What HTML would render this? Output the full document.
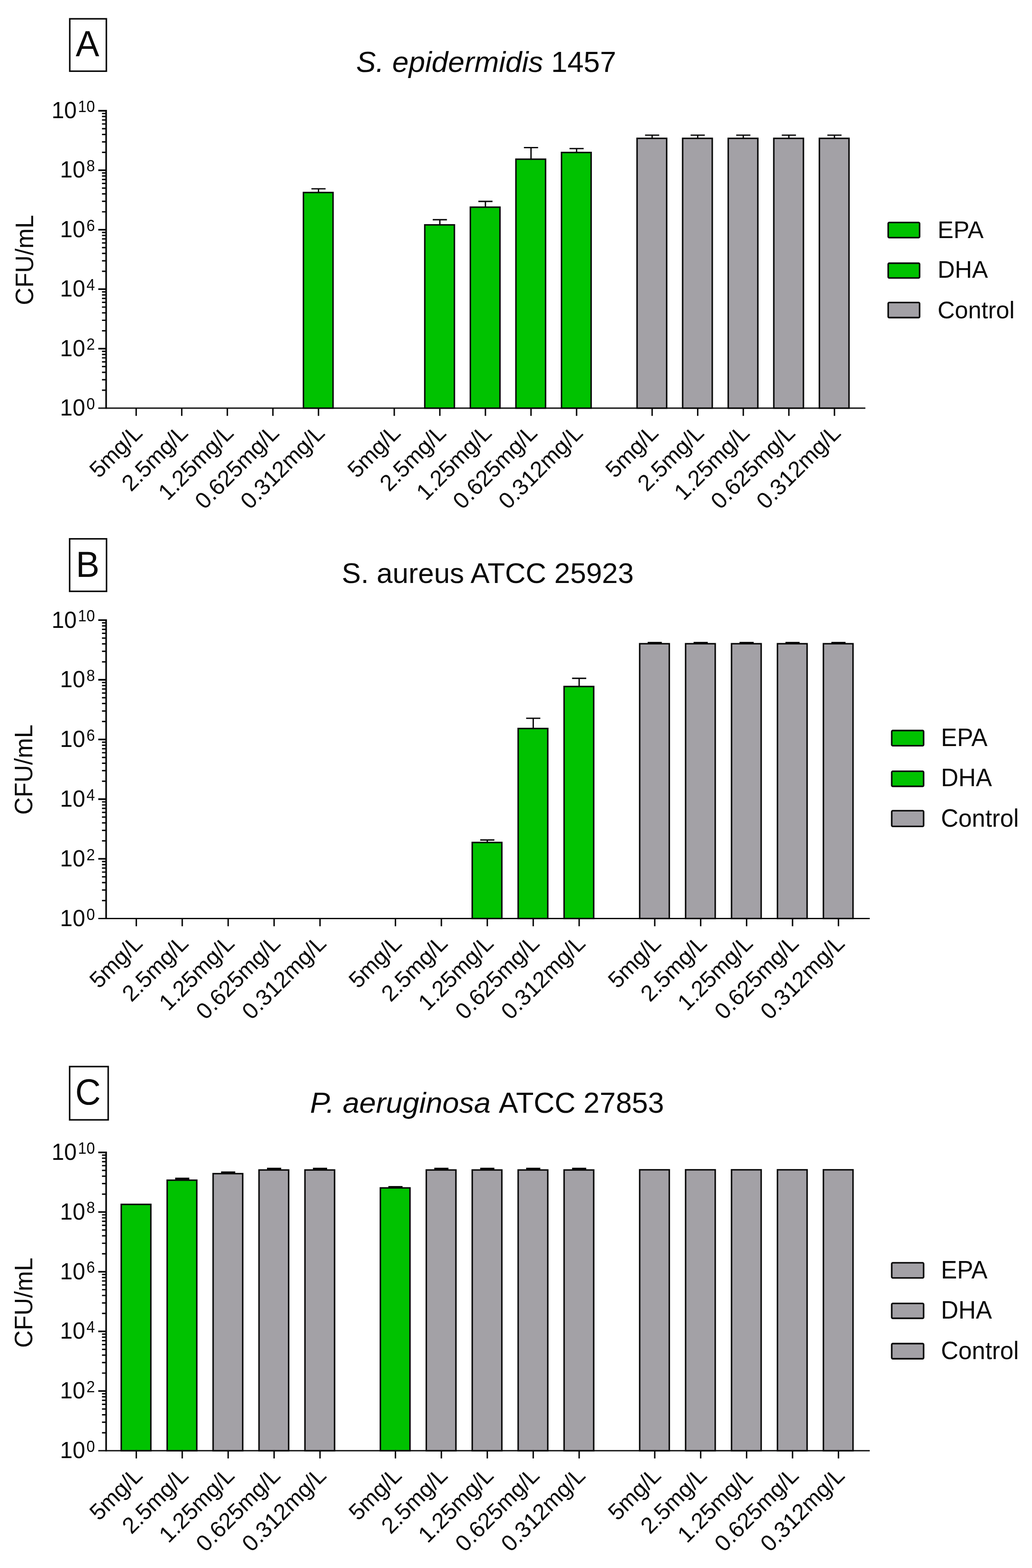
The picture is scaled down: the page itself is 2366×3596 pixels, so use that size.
<!DOCTYPE html>
<html lang="en"><head><meta charset="utf-8"><title>Figure: CFU/mL for EPA, DHA and Control</title>
<style>
html,body{margin:0;padding:0;background:#fff}
body{width:2366px;height:3596px;overflow:hidden}
svg{display:block}
svg text{font-family:"Liberation Sans", Arial, Helvetica, sans-serif;fill:#0a0a0a}
</style></head><body>
<svg width="2366" height="3596" viewBox="0 0 2366 3596">
<rect width="2366" height="3596" fill="#fff"/>
<g class="panel" id="panel-A">
<rect x="159.95" y="43.15" width="83.9" height="120.1" fill="#fff" stroke="#0a0a0a" stroke-width="3.5"/>
<text class="letter" transform="translate(200.5 128.6) scale(1 1.04)" font-size="81" text-anchor="middle">A</text>
<g class="title">
<text xml:space="preserve" font-style="italic" transform="translate(816.6 165.2) scale(1.01 1)" font-size="67">S. epidermidis</text>
<text xml:space="preserve" transform="translate(1263.6 165.2)" font-size="67">1457</text>
</g>
<g class="axes">
<path d="M312.2 936V953.8M416.7 936V953.8M521.2 936V953.8M625.7 936V953.8M730.2 936V953.8M903.9 936V953.8M1008.4 936V953.8M1112.9 936V953.8M1217.4 936V953.8M1321.9 936V953.8M1495.1 936V953.8M1599.6 936V953.8M1704.1 936V953.8M1808.6 936V953.8M1913.1 936V953.8" fill="none" stroke="#0a0a0a" stroke-width="3.3"/>
<path d="M243.3 252.1V937.6M225.3 254H243.3M225.3 390.4H243.3M225.3 526.8H243.3M225.3 663.2H243.3M225.3 799.6H243.3" fill="none" stroke="#0a0a0a" stroke-width="3.8"/>
<path d="M225.3 936H1984" fill="none" stroke="#0a0a0a" stroke-width="3.2"/>
<path d="M233.8 349.34H243.3M233.8 325.32H243.3M233.8 308.28H243.3M233.8 295.06H243.3M233.8 284.26H243.3M233.8 275.13H243.3M233.8 267.22H243.3M233.8 260.24H243.3M233.8 485.74H243.3M233.8 461.72H243.3M233.8 444.68H243.3M233.8 431.46H243.3M233.8 420.66H243.3M233.8 411.53H243.3M233.8 403.62H243.3M233.8 396.64H243.3M233.8 622.14H243.3M233.8 598.12H243.3M233.8 581.08H243.3M233.8 567.86H243.3M233.8 557.06H243.3M233.8 547.93H243.3M233.8 540.02H243.3M233.8 533.04H243.3M233.8 758.54H243.3M233.8 734.52H243.3M233.8 717.48H243.3M233.8 704.26H243.3M233.8 693.46H243.3M233.8 684.33H243.3M233.8 676.42H243.3M233.8 669.44H243.3M233.8 894.94H243.3M233.8 870.92H243.3M233.8 853.88H243.3M233.8 840.66H243.3M233.8 829.86H243.3M233.8 820.73H243.3M233.8 812.82H243.3M233.8 805.84H243.3" fill="none" stroke="#0a0a0a" stroke-width="3.2"/>
</g>
<g class="bars">
<path d="M730.2 440.8V433M713.95 433H746.45" fill="none" stroke="#0a0a0a" stroke-width="3.1"/>
<rect x="695.65" y="441.5" width="67.9" height="494.5" fill="#00c200" stroke="#0a0a0a" stroke-width="3.4"/>
<path d="M1008.4 515V503.9M992.15 503.9H1024.65" fill="none" stroke="#0a0a0a" stroke-width="3.1"/>
<rect x="973.85" y="515.7" width="67.9" height="420.3" fill="#00c200" stroke="#0a0a0a" stroke-width="3.4"/>
<path d="M1112.9 474.4V461.9M1096.65 461.9H1129.15" fill="none" stroke="#0a0a0a" stroke-width="3.1"/>
<rect x="1078.35" y="475.1" width="67.9" height="460.9" fill="#00c200" stroke="#0a0a0a" stroke-width="3.4"/>
<path d="M1217.4 364.4V338.5M1201.15 338.5H1233.65" fill="none" stroke="#0a0a0a" stroke-width="3.1"/>
<rect x="1182.85" y="365.1" width="67.9" height="570.9" fill="#00c200" stroke="#0a0a0a" stroke-width="3.4"/>
<path d="M1321.9 349V340.7M1305.65 340.7H1338.15" fill="none" stroke="#0a0a0a" stroke-width="3.1"/>
<rect x="1287.35" y="349.7" width="67.9" height="586.3" fill="#00c200" stroke="#0a0a0a" stroke-width="3.4"/>
<path d="M1495.1 316.6V310M1478.85 310H1511.35" fill="none" stroke="#0a0a0a" stroke-width="3.1"/>
<rect x="1460.55" y="317.3" width="67.9" height="618.7" fill="#a3a1a6" stroke="#0a0a0a" stroke-width="3.4"/>
<path d="M1599.6 316.6V310M1583.35 310H1615.85" fill="none" stroke="#0a0a0a" stroke-width="3.1"/>
<rect x="1565.05" y="317.3" width="67.9" height="618.7" fill="#a3a1a6" stroke="#0a0a0a" stroke-width="3.4"/>
<path d="M1704.1 316.6V310M1687.85 310H1720.35" fill="none" stroke="#0a0a0a" stroke-width="3.1"/>
<rect x="1669.55" y="317.3" width="67.9" height="618.7" fill="#a3a1a6" stroke="#0a0a0a" stroke-width="3.4"/>
<path d="M1808.6 316.6V310M1792.35 310H1824.85" fill="none" stroke="#0a0a0a" stroke-width="3.1"/>
<rect x="1774.05" y="317.3" width="67.9" height="618.7" fill="#a3a1a6" stroke="#0a0a0a" stroke-width="3.4"/>
<path d="M1913.1 316.6V310M1896.85 310H1929.35" fill="none" stroke="#0a0a0a" stroke-width="3.1"/>
<rect x="1878.55" y="317.3" width="67.9" height="618.7" fill="#a3a1a6" stroke="#0a0a0a" stroke-width="3.4"/>
</g>
<g class="ylabels">
<text transform="translate(217.6 271) scale(1 1.045)" font-size="52" text-anchor="end">10<tspan font-size="35" dx="2.7" dy="-13.68">10</tspan></text>
<text transform="translate(217.6 407.4) scale(1 1.045)" font-size="52" text-anchor="end">10<tspan font-size="35" dx="2.7" dy="-13.68">8</tspan></text>
<text transform="translate(217.6 543.8) scale(1 1.045)" font-size="52" text-anchor="end">10<tspan font-size="35" dx="2.7" dy="-13.68">6</tspan></text>
<text transform="translate(217.6 680.2) scale(1 1.045)" font-size="52" text-anchor="end">10<tspan font-size="35" dx="2.7" dy="-13.68">4</tspan></text>
<text transform="translate(217.6 816.6) scale(1 1.045)" font-size="52" text-anchor="end">10<tspan font-size="35" dx="2.7" dy="-13.68">2</tspan></text>
<text transform="translate(217.6 953) scale(1 1.045)" font-size="52" text-anchor="end">10<tspan font-size="35" dx="2.7" dy="-13.68">0</tspan></text>
</g>
<text class="ytitle" transform="translate(76.2 596.3) rotate(-90) scale(1 1.035)" font-size="55.6" text-anchor="middle">CFU/mL</text>
<g class="xlabels">
<text transform="translate(329.3 995.9) rotate(-45)" font-size="52.2" text-anchor="end">5mg/L</text>
<text transform="translate(433.8 995.9) rotate(-45)" font-size="52.2" text-anchor="end">2.5mg/L</text>
<text transform="translate(538.3 995.9) rotate(-45)" font-size="52.2" text-anchor="end">1.25mg/L</text>
<text transform="translate(642.8 995.9) rotate(-45)" font-size="52.2" text-anchor="end">0.625mg/L</text>
<text transform="translate(747.3 995.9) rotate(-45)" font-size="52.2" text-anchor="end">0.312mg/L</text>
<text transform="translate(921 995.9) rotate(-45)" font-size="52.2" text-anchor="end">5mg/L</text>
<text transform="translate(1025.5 995.9) rotate(-45)" font-size="52.2" text-anchor="end">2.5mg/L</text>
<text transform="translate(1130 995.9) rotate(-45)" font-size="52.2" text-anchor="end">1.25mg/L</text>
<text transform="translate(1234.5 995.9) rotate(-45)" font-size="52.2" text-anchor="end">0.625mg/L</text>
<text transform="translate(1339 995.9) rotate(-45)" font-size="52.2" text-anchor="end">0.312mg/L</text>
<text transform="translate(1512.2 995.9) rotate(-45)" font-size="52.2" text-anchor="end">5mg/L</text>
<text transform="translate(1616.7 995.9) rotate(-45)" font-size="52.2" text-anchor="end">2.5mg/L</text>
<text transform="translate(1721.2 995.9) rotate(-45)" font-size="52.2" text-anchor="end">1.25mg/L</text>
<text transform="translate(1825.7 995.9) rotate(-45)" font-size="52.2" text-anchor="end">0.625mg/L</text>
<text transform="translate(1930.2 995.9) rotate(-45)" font-size="52.2" text-anchor="end">0.312mg/L</text>
</g>
<g class="legend">
<rect x="2036.3" y="510.3" width="72" height="34.7" rx="2.5" fill="#00c200" stroke="#0a0a0a" stroke-width="3.6"/>
<text transform="translate(2149.5 545.6) scale(1 1.03)" font-size="54.8">EPA</text>
<rect x="2036.3" y="603.6" width="72" height="33.9" rx="2.5" fill="#00c200" stroke="#0a0a0a" stroke-width="3.6"/>
<text transform="translate(2149.5 636.8) scale(1 1.03)" font-size="54.8">DHA</text>
<rect x="2036.3" y="693.8" width="72" height="34.6" rx="2.5" fill="#a3a1a6" stroke="#0a0a0a" stroke-width="3.6"/>
<text transform="translate(2149.5 729.5) scale(1 1.03)" font-size="54.8">Control</text>
</g>
</g>
<g class="panel" id="panel-B">
<rect x="159.65" y="1235.75" width="84.6" height="120.4" fill="#fff" stroke="#0a0a0a" stroke-width="3.5"/>
<text class="letter" transform="translate(201 1322.8) scale(1 1.04)" font-size="81" text-anchor="middle">B</text>
<g class="title">
<text xml:space="preserve" transform="translate(783.4 1337)" font-size="65.6">S. aureus ATCC 25923</text>
</g>
<g class="axes">
<path d="M312.5 2106.5V2124.3M417.8 2106.5V2124.3M523.1 2106.5V2124.3M628.4 2106.5V2124.3M733.7 2106.5V2124.3M906.6 2106.5V2124.3M1011.9 2106.5V2124.3M1117.2 2106.5V2124.3M1222.5 2106.5V2124.3M1327.8 2106.5V2124.3M1501.1 2106.5V2124.3M1606.4 2106.5V2124.3M1711.7 2106.5V2124.3M1817 2106.5V2124.3M1922.3 2106.5V2124.3" fill="none" stroke="#0a0a0a" stroke-width="3.3"/>
<path d="M243.3 1420.2V2108.1M225.3 1422.1H243.3M225.3 1558.98H243.3M225.3 1695.86H243.3M225.3 1832.74H243.3M225.3 1969.62H243.3" fill="none" stroke="#0a0a0a" stroke-width="3.8"/>
<path d="M225.3 2106.5H1994" fill="none" stroke="#0a0a0a" stroke-width="3.2"/>
<path d="M233.8 1517.78H243.3M233.8 1493.67H243.3M233.8 1476.57H243.3M233.8 1463.3H243.3M233.8 1452.47H243.3M233.8 1443.3H243.3M233.8 1435.37H243.3M233.8 1428.36H243.3M233.8 1654.66H243.3M233.8 1630.55H243.3M233.8 1613.45H243.3M233.8 1600.18H243.3M233.8 1589.35H243.3M233.8 1580.18H243.3M233.8 1572.25H243.3M233.8 1565.24H243.3M233.8 1791.54H243.3M233.8 1767.43H243.3M233.8 1750.33H243.3M233.8 1737.06H243.3M233.8 1726.23H243.3M233.8 1717.06H243.3M233.8 1709.13H243.3M233.8 1702.12H243.3M233.8 1928.42H243.3M233.8 1904.31H243.3M233.8 1887.21H243.3M233.8 1873.94H243.3M233.8 1863.11H243.3M233.8 1853.94H243.3M233.8 1846.01H243.3M233.8 1839H243.3M233.8 2065.3H243.3M233.8 2041.19H243.3M233.8 2024.09H243.3M233.8 2010.82H243.3M233.8 1999.99H243.3M233.8 1990.82H243.3M233.8 1982.89H243.3M233.8 1975.88H243.3" fill="none" stroke="#0a0a0a" stroke-width="3.2"/>
</g>
<g class="bars">
<path d="M1117.2 1931.4V1926.4M1100.95 1926.4H1133.45" fill="none" stroke="#0a0a0a" stroke-width="3.1"/>
<rect x="1082.65" y="1932.1" width="67.9" height="174.4" fill="#00c200" stroke="#0a0a0a" stroke-width="3.4"/>
<path d="M1222.5 1670V1647.2M1206.25 1647.2H1238.75" fill="none" stroke="#0a0a0a" stroke-width="3.1"/>
<rect x="1187.95" y="1670.7" width="67.9" height="435.8" fill="#00c200" stroke="#0a0a0a" stroke-width="3.4"/>
<path d="M1327.8 1573.7V1555.6M1311.55 1555.6H1344.05" fill="none" stroke="#0a0a0a" stroke-width="3.1"/>
<rect x="1293.25" y="1574.4" width="67.9" height="532.1" fill="#00c200" stroke="#0a0a0a" stroke-width="3.4"/>
<path d="M1501.1 1475.6V1473.6M1484.85 1473.6H1517.35" fill="none" stroke="#0a0a0a" stroke-width="3.1"/>
<rect x="1466.55" y="1476.3" width="67.9" height="630.2" fill="#a3a1a6" stroke="#0a0a0a" stroke-width="3.4"/>
<path d="M1606.4 1475.6V1473.6M1590.15 1473.6H1622.65" fill="none" stroke="#0a0a0a" stroke-width="3.1"/>
<rect x="1571.85" y="1476.3" width="67.9" height="630.2" fill="#a3a1a6" stroke="#0a0a0a" stroke-width="3.4"/>
<path d="M1711.7 1475.6V1473.6M1695.45 1473.6H1727.95" fill="none" stroke="#0a0a0a" stroke-width="3.1"/>
<rect x="1677.15" y="1476.3" width="67.9" height="630.2" fill="#a3a1a6" stroke="#0a0a0a" stroke-width="3.4"/>
<path d="M1817 1475.6V1473.6M1800.75 1473.6H1833.25" fill="none" stroke="#0a0a0a" stroke-width="3.1"/>
<rect x="1782.45" y="1476.3" width="67.9" height="630.2" fill="#a3a1a6" stroke="#0a0a0a" stroke-width="3.4"/>
<path d="M1922.3 1475.6V1473.6M1906.05 1473.6H1938.55" fill="none" stroke="#0a0a0a" stroke-width="3.1"/>
<rect x="1887.75" y="1476.3" width="67.9" height="630.2" fill="#a3a1a6" stroke="#0a0a0a" stroke-width="3.4"/>
</g>
<g class="ylabels">
<text transform="translate(217.6 1439.5) scale(1 1.045)" font-size="52" text-anchor="end">10<tspan font-size="35" dx="2.7" dy="-13.68">10</tspan></text>
<text transform="translate(217.6 1576.38) scale(1 1.045)" font-size="52" text-anchor="end">10<tspan font-size="35" dx="2.7" dy="-13.68">8</tspan></text>
<text transform="translate(217.6 1713.26) scale(1 1.045)" font-size="52" text-anchor="end">10<tspan font-size="35" dx="2.7" dy="-13.68">6</tspan></text>
<text transform="translate(217.6 1850.14) scale(1 1.045)" font-size="52" text-anchor="end">10<tspan font-size="35" dx="2.7" dy="-13.68">4</tspan></text>
<text transform="translate(217.6 1987.02) scale(1 1.045)" font-size="52" text-anchor="end">10<tspan font-size="35" dx="2.7" dy="-13.68">2</tspan></text>
<text transform="translate(217.6 2123.9) scale(1 1.045)" font-size="52" text-anchor="end">10<tspan font-size="35" dx="2.7" dy="-13.68">0</tspan></text>
</g>
<text class="ytitle" transform="translate(73.9 1765.1) rotate(-90) scale(1 1.035)" font-size="55.6" text-anchor="middle">CFU/mL</text>
<g class="xlabels">
<text transform="translate(329.6 2166.4) rotate(-45)" font-size="52.2" text-anchor="end">5mg/L</text>
<text transform="translate(434.9 2166.4) rotate(-45)" font-size="52.2" text-anchor="end">2.5mg/L</text>
<text transform="translate(540.2 2166.4) rotate(-45)" font-size="52.2" text-anchor="end">1.25mg/L</text>
<text transform="translate(645.5 2166.4) rotate(-45)" font-size="52.2" text-anchor="end">0.625mg/L</text>
<text transform="translate(750.8 2166.4) rotate(-45)" font-size="52.2" text-anchor="end">0.312mg/L</text>
<text transform="translate(923.7 2166.4) rotate(-45)" font-size="52.2" text-anchor="end">5mg/L</text>
<text transform="translate(1029 2166.4) rotate(-45)" font-size="52.2" text-anchor="end">2.5mg/L</text>
<text transform="translate(1134.3 2166.4) rotate(-45)" font-size="52.2" text-anchor="end">1.25mg/L</text>
<text transform="translate(1239.6 2166.4) rotate(-45)" font-size="52.2" text-anchor="end">0.625mg/L</text>
<text transform="translate(1344.9 2166.4) rotate(-45)" font-size="52.2" text-anchor="end">0.312mg/L</text>
<text transform="translate(1518.2 2166.4) rotate(-45)" font-size="52.2" text-anchor="end">5mg/L</text>
<text transform="translate(1623.5 2166.4) rotate(-45)" font-size="52.2" text-anchor="end">2.5mg/L</text>
<text transform="translate(1728.8 2166.4) rotate(-45)" font-size="52.2" text-anchor="end">1.25mg/L</text>
<text transform="translate(1834.1 2166.4) rotate(-45)" font-size="52.2" text-anchor="end">0.625mg/L</text>
<text transform="translate(1939.4 2166.4) rotate(-45)" font-size="52.2" text-anchor="end">0.312mg/L</text>
</g>
<g class="legend">
<rect x="2044.4" y="1675.4" width="73.1" height="34.8" rx="2.5" fill="#00c200" stroke="#0a0a0a" stroke-width="3.6"/>
<text transform="translate(2157.3 1711.2) scale(1 1.03)" font-size="55.4">EPA</text>
<rect x="2044.4" y="1768.7" width="73.1" height="34.7" rx="2.5" fill="#00c200" stroke="#0a0a0a" stroke-width="3.6"/>
<text transform="translate(2157.3 1803.1) scale(1 1.03)" font-size="55.4">DHA</text>
<rect x="2044.4" y="1859.3" width="73.1" height="36" rx="2.5" fill="#a3a1a6" stroke="#0a0a0a" stroke-width="3.6"/>
<text transform="translate(2157.3 1895.9) scale(1 1.03)" font-size="55.4">Control</text>
</g>
</g>
<g class="panel" id="panel-C">
<rect x="159.65" y="2446.05" width="88.4" height="122.2" fill="#fff" stroke="#0a0a0a" stroke-width="3.5"/>
<text class="letter" transform="translate(201.8 2532.6) scale(1 1.04)" font-size="81" text-anchor="middle">C</text>
<g class="title">
<text xml:space="preserve" font-style="italic" transform="translate(710.8 2551.8) scale(1.023 1)" font-size="67">P. aeruginosa</text>
<text xml:space="preserve" transform="translate(1143.6 2551.8)" font-size="66.4">ATCC 27853</text>
</g>
<g class="axes">
<path d="M312.5 3327V3344.8M417.8 3327V3344.8M523.1 3327V3344.8M628.4 3327V3344.8M733.7 3327V3344.8M906.6 3327V3344.8M1011.9 3327V3344.8M1117.2 3327V3344.8M1222.5 3327V3344.8M1327.8 3327V3344.8M1501.1 3327V3344.8M1606.4 3327V3344.8M1711.7 3327V3344.8M1817 3327V3344.8M1922.3 3327V3344.8" fill="none" stroke="#0a0a0a" stroke-width="3.3"/>
<path d="M243.3 2641V3328.6M225.3 2642.9H243.3M225.3 2779.72H243.3M225.3 2916.54H243.3M225.3 3053.36H243.3M225.3 3190.18H243.3" fill="none" stroke="#0a0a0a" stroke-width="3.8"/>
<path d="M225.3 3327H1994" fill="none" stroke="#0a0a0a" stroke-width="3.2"/>
<path d="M233.8 2738.53H243.3M233.8 2714.44H243.3M233.8 2697.35H243.3M233.8 2684.09H243.3M233.8 2673.25H243.3M233.8 2664.09H243.3M233.8 2656.16H243.3M233.8 2649.16H243.3M233.8 2875.35H243.3M233.8 2851.26H243.3M233.8 2834.17H243.3M233.8 2820.91H243.3M233.8 2810.07H243.3M233.8 2800.91H243.3M233.8 2792.98H243.3M233.8 2785.98H243.3M233.8 3012.17H243.3M233.8 2988.08H243.3M233.8 2970.99H243.3M233.8 2957.73H243.3M233.8 2946.89H243.3M233.8 2937.73H243.3M233.8 2929.8H243.3M233.8 2922.8H243.3M233.8 3148.99H243.3M233.8 3124.9H243.3M233.8 3107.81H243.3M233.8 3094.55H243.3M233.8 3083.71H243.3M233.8 3074.55H243.3M233.8 3066.62H243.3M233.8 3059.62H243.3M233.8 3285.81H243.3M233.8 3261.72H243.3M233.8 3244.63H243.3M233.8 3231.37H243.3M233.8 3220.53H243.3M233.8 3211.37H243.3M233.8 3203.44H243.3M233.8 3196.44H243.3" fill="none" stroke="#0a0a0a" stroke-width="3.2"/>
</g>
<g class="bars">
<rect x="277.95" y="2762.1" width="67.9" height="564.9" fill="#00c200" stroke="#0a0a0a" stroke-width="3.4"/>
<path d="M417.8 2705.9V2703M401.55 2703H434.05" fill="none" stroke="#0a0a0a" stroke-width="4.4"/>
<rect x="383.25" y="2706.6" width="67.9" height="620.4" fill="#00c200" stroke="#0a0a0a" stroke-width="3.4"/>
<path d="M523.1 2690.9V2688.6M506.85 2688.6H539.35" fill="none" stroke="#0a0a0a" stroke-width="4.4"/>
<rect x="488.55" y="2691.6" width="67.9" height="635.4" fill="#a3a1a6" stroke="#0a0a0a" stroke-width="3.4"/>
<path d="M628.4 2682.5V2680.2M612.15 2680.2H644.65" fill="none" stroke="#0a0a0a" stroke-width="4.4"/>
<rect x="593.85" y="2683.2" width="67.9" height="643.8" fill="#a3a1a6" stroke="#0a0a0a" stroke-width="3.4"/>
<path d="M733.7 2682.5V2680.2M717.45 2680.2H749.95" fill="none" stroke="#0a0a0a" stroke-width="4.4"/>
<rect x="699.15" y="2683.2" width="67.9" height="643.8" fill="#a3a1a6" stroke="#0a0a0a" stroke-width="3.4"/>
<path d="M906.6 2723.6V2722.2M890.35 2722.2H922.85" fill="none" stroke="#0a0a0a" stroke-width="4.4"/>
<rect x="872.05" y="2724.3" width="67.9" height="602.7" fill="#00c200" stroke="#0a0a0a" stroke-width="3.4"/>
<path d="M1011.9 2682.5V2680.2M995.65 2680.2H1028.15" fill="none" stroke="#0a0a0a" stroke-width="4.4"/>
<rect x="977.35" y="2683.2" width="67.9" height="643.8" fill="#a3a1a6" stroke="#0a0a0a" stroke-width="3.4"/>
<path d="M1117.2 2682.5V2680.2M1100.95 2680.2H1133.45" fill="none" stroke="#0a0a0a" stroke-width="4.4"/>
<rect x="1082.65" y="2683.2" width="67.9" height="643.8" fill="#a3a1a6" stroke="#0a0a0a" stroke-width="3.4"/>
<path d="M1222.5 2682.5V2680.2M1206.25 2680.2H1238.75" fill="none" stroke="#0a0a0a" stroke-width="4.4"/>
<rect x="1187.95" y="2683.2" width="67.9" height="643.8" fill="#a3a1a6" stroke="#0a0a0a" stroke-width="3.4"/>
<path d="M1327.8 2682.5V2680.2M1311.55 2680.2H1344.05" fill="none" stroke="#0a0a0a" stroke-width="4.4"/>
<rect x="1293.25" y="2683.2" width="67.9" height="643.8" fill="#a3a1a6" stroke="#0a0a0a" stroke-width="3.4"/>
<rect x="1466.55" y="2682.8" width="67.9" height="644.2" fill="#a3a1a6" stroke="#0a0a0a" stroke-width="3.4"/>
<rect x="1571.85" y="2682.8" width="67.9" height="644.2" fill="#a3a1a6" stroke="#0a0a0a" stroke-width="3.4"/>
<rect x="1677.15" y="2682.8" width="67.9" height="644.2" fill="#a3a1a6" stroke="#0a0a0a" stroke-width="3.4"/>
<rect x="1782.45" y="2682.8" width="67.9" height="644.2" fill="#a3a1a6" stroke="#0a0a0a" stroke-width="3.4"/>
<rect x="1887.75" y="2682.8" width="67.9" height="644.2" fill="#a3a1a6" stroke="#0a0a0a" stroke-width="3.4"/>
</g>
<g class="ylabels">
<text transform="translate(217.6 2659.9) scale(1 1.045)" font-size="52" text-anchor="end">10<tspan font-size="35" dx="2.7" dy="-13.68">10</tspan></text>
<text transform="translate(217.6 2796.72) scale(1 1.045)" font-size="52" text-anchor="end">10<tspan font-size="35" dx="2.7" dy="-13.68">8</tspan></text>
<text transform="translate(217.6 2933.54) scale(1 1.045)" font-size="52" text-anchor="end">10<tspan font-size="35" dx="2.7" dy="-13.68">6</tspan></text>
<text transform="translate(217.6 3070.36) scale(1 1.045)" font-size="52" text-anchor="end">10<tspan font-size="35" dx="2.7" dy="-13.68">4</tspan></text>
<text transform="translate(217.6 3207.18) scale(1 1.045)" font-size="52" text-anchor="end">10<tspan font-size="35" dx="2.7" dy="-13.68">2</tspan></text>
<text transform="translate(217.6 3344) scale(1 1.045)" font-size="52" text-anchor="end">10<tspan font-size="35" dx="2.7" dy="-13.68">0</tspan></text>
</g>
<text class="ytitle" transform="translate(73.9 2987.5) rotate(-90) scale(1 1.035)" font-size="55.6" text-anchor="middle">CFU/mL</text>
<g class="xlabels">
<text transform="translate(329.6 3386.9) rotate(-45)" font-size="52.2" text-anchor="end">5mg/L</text>
<text transform="translate(434.9 3386.9) rotate(-45)" font-size="52.2" text-anchor="end">2.5mg/L</text>
<text transform="translate(540.2 3386.9) rotate(-45)" font-size="52.2" text-anchor="end">1.25mg/L</text>
<text transform="translate(645.5 3386.9) rotate(-45)" font-size="52.2" text-anchor="end">0.625mg/L</text>
<text transform="translate(750.8 3386.9) rotate(-45)" font-size="52.2" text-anchor="end">0.312mg/L</text>
<text transform="translate(923.7 3386.9) rotate(-45)" font-size="52.2" text-anchor="end">5mg/L</text>
<text transform="translate(1029 3386.9) rotate(-45)" font-size="52.2" text-anchor="end">2.5mg/L</text>
<text transform="translate(1134.3 3386.9) rotate(-45)" font-size="52.2" text-anchor="end">1.25mg/L</text>
<text transform="translate(1239.6 3386.9) rotate(-45)" font-size="52.2" text-anchor="end">0.625mg/L</text>
<text transform="translate(1344.9 3386.9) rotate(-45)" font-size="52.2" text-anchor="end">0.312mg/L</text>
<text transform="translate(1518.2 3386.9) rotate(-45)" font-size="52.2" text-anchor="end">5mg/L</text>
<text transform="translate(1623.5 3386.9) rotate(-45)" font-size="52.2" text-anchor="end">2.5mg/L</text>
<text transform="translate(1728.8 3386.9) rotate(-45)" font-size="52.2" text-anchor="end">1.25mg/L</text>
<text transform="translate(1834.1 3386.9) rotate(-45)" font-size="52.2" text-anchor="end">0.625mg/L</text>
<text transform="translate(1939.4 3386.9) rotate(-45)" font-size="52.2" text-anchor="end">0.312mg/L</text>
</g>
<g class="legend">
<rect x="2044.4" y="2896" width="73.1" height="34.7" rx="2.5" fill="#a3a1a6" stroke="#0a0a0a" stroke-width="3.6"/>
<text transform="translate(2157.3 2932) scale(1 1.03)" font-size="55.4">EPA</text>
<rect x="2044.4" y="2989.2" width="73.1" height="34.2" rx="2.5" fill="#a3a1a6" stroke="#0a0a0a" stroke-width="3.6"/>
<text transform="translate(2157.3 3023.9) scale(1 1.03)" font-size="55.4">DHA</text>
<rect x="2044.4" y="3081.4" width="73.1" height="34.7" rx="2.5" fill="#a3a1a6" stroke="#0a0a0a" stroke-width="3.6"/>
<text transform="translate(2157.3 3116.6) scale(1 1.03)" font-size="55.4">Control</text>
</g>
</g>
</svg>
</body></html>
